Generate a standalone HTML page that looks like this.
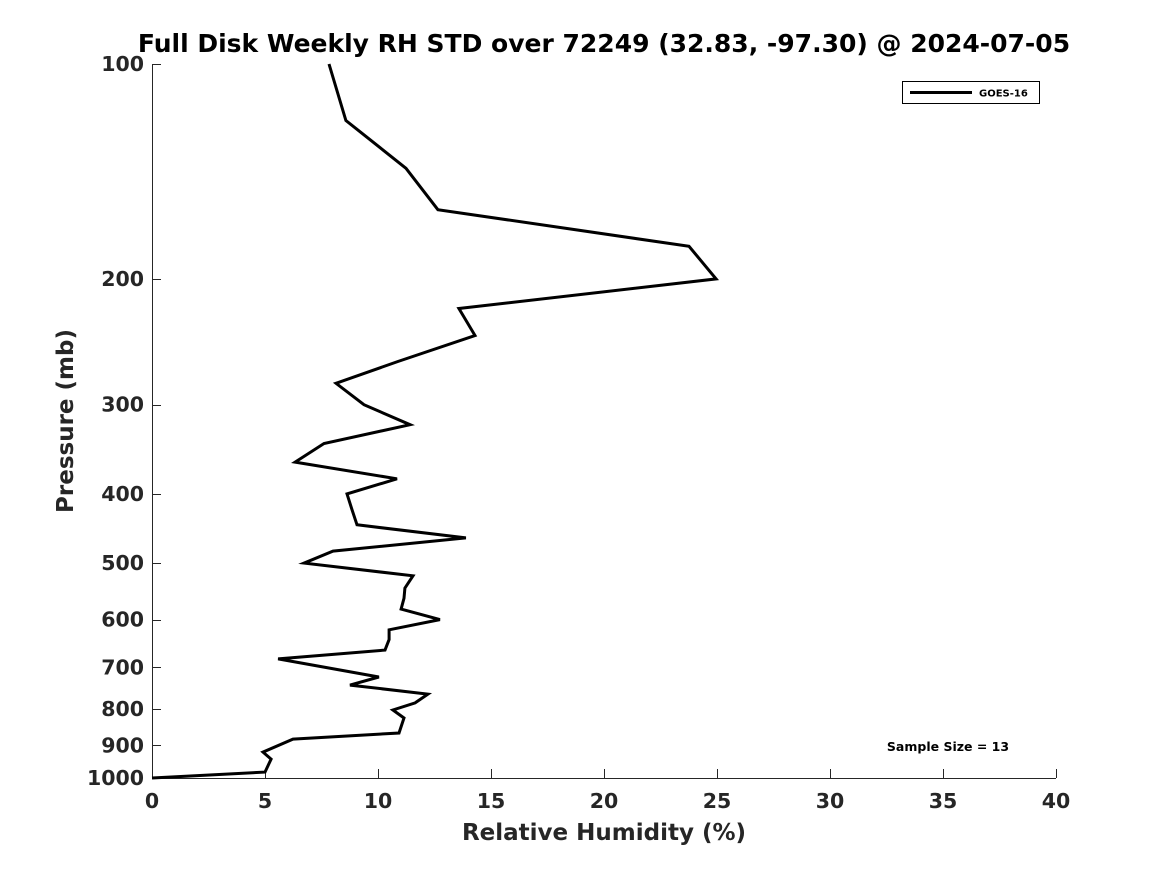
<!DOCTYPE html>
<html><head><meta charset="utf-8"><style>
html,body{margin:0;padding:0;background:#fff;}
svg{display:block;font-family:"DejaVu Sans","Liberation Sans",sans-serif;font-weight:bold;}
</style></head><body>
<svg id="chart" width="1167" height="875" viewBox="0 0 1167 875">
<rect width="1167" height="875" fill="#fff"/>
<text x="604" y="52" text-anchor="middle" font-size="25" fill="#000">Full Disk Weekly RH STD over 72249 (32.83, -97.30) @ 2024-07-05</text>
<g id="axes"></g>
<g id="series"></g>
<g>
<rect x="902.5" y="81.5" width="137" height="22" fill="#fff" stroke="#000" stroke-width="1"/>
<line x1="910" y1="92.5" x2="972" y2="92.5" stroke="#000" stroke-width="3"/>
<text x="979" y="96.5" font-size="10" fill="#000">GOES-16</text>
</g>
<text x="948" y="751" text-anchor="middle" font-size="12.5" fill="#000">Sample Size = 13</text>
<text x="604" y="840" text-anchor="middle" font-size="23" fill="#262626">Relative Humidity (%)</text>
<text transform="translate(73,421) rotate(-90)" text-anchor="middle" font-size="23" fill="#262626">Pressure (mb)</text>
</svg>
<script>
const xTicks = [0,5,10,15,20,25,30,35,40];
const yTicks = [100,200,300,400,500,600,700,800,900,1000];
const rhValues = [7.83,8.58,11.24,12.65,23.76,24.96,13.58,14.29,10.88,8.14,9.38,11.42,7.61,6.33,10.84,8.63,8.85,9.07,13.89,8.01,6.73,11.55,11.19,11.15,11.02,12.74,10.49,10.49,10.31,5.58,10.04,8.76,12.21,11.64,10.66,11.15,10.93,6.24,4.91,5.27,5.0,0];
const pressures = [100,120,140,160,180,200,220,240,261,280,300,320,340,361,381,400,421,442,461,481,500,521,542,560,580,600,620,640,662,681,722,741,763,785,803,824,865,882,920,941,981,1000];

const X0=152,X1=1056,Y0=64,Y1=778;
const xs = v => X0 + (v-0)/(40-0)*(X1-X0);
const ys = p => Y0 + (Math.log10(p)-2)*(Y1-Y0);
const NS="http://www.w3.org/2000/svg";
const axes=document.getElementById('axes');
function mk(tag,attrs,parent){const e=document.createElementNS(NS,tag);for(const k in attrs)e.setAttribute(k,attrs[k]);parent.appendChild(e);return e;}

const xl=mk('line',{x1:X0,y1:Y1+0.5,x2:X1,y2:Y1+0.5,stroke:'#262626','stroke-width':1},axes);


const yl=mk('line',{x1:X0+0.5,y1:Y0,x2:X0+0.5,y2:Y1,stroke:'#262626','stroke-width':1},axes);



xTicks.forEach(v=>{
  const x=Math.round(xs(v))+0.5;
  const t=mk('line',{x1:x,y1:Y1,x2:x,y2:Y1-9,stroke:'#262626','stroke-width':1},axes);
  
  
  const l=mk('text',{x:xs(v),y:Y1+30,'text-anchor':'middle','font-size':20.5,fill:'#262626'},axes);
  l.textContent=v;
  
  
});
yTicks.forEach(p=>{
  const y=Math.round(ys(p))+0.5;
  const t=mk('line',{x1:X0,y1:y,x2:X0+9,y2:y,stroke:'#262626','stroke-width':1},axes);
  
  
  const l=mk('text',{x:X0-8,y:ys(p)+7,'text-anchor':'end','font-size':20.5,fill:'#262626'},axes);
  l.textContent=p;
  
  
});

const pts=rhValues.map((v,i)=>xs(v).toFixed(1)+','+ys(pressures[i]).toFixed(1)).join(' ');
const line=mk('polyline',{points:pts,fill:'none',stroke:'#000','stroke-width':3,'stroke-linejoin':'miter'},document.getElementById('series'));


</script>
</body></html>
